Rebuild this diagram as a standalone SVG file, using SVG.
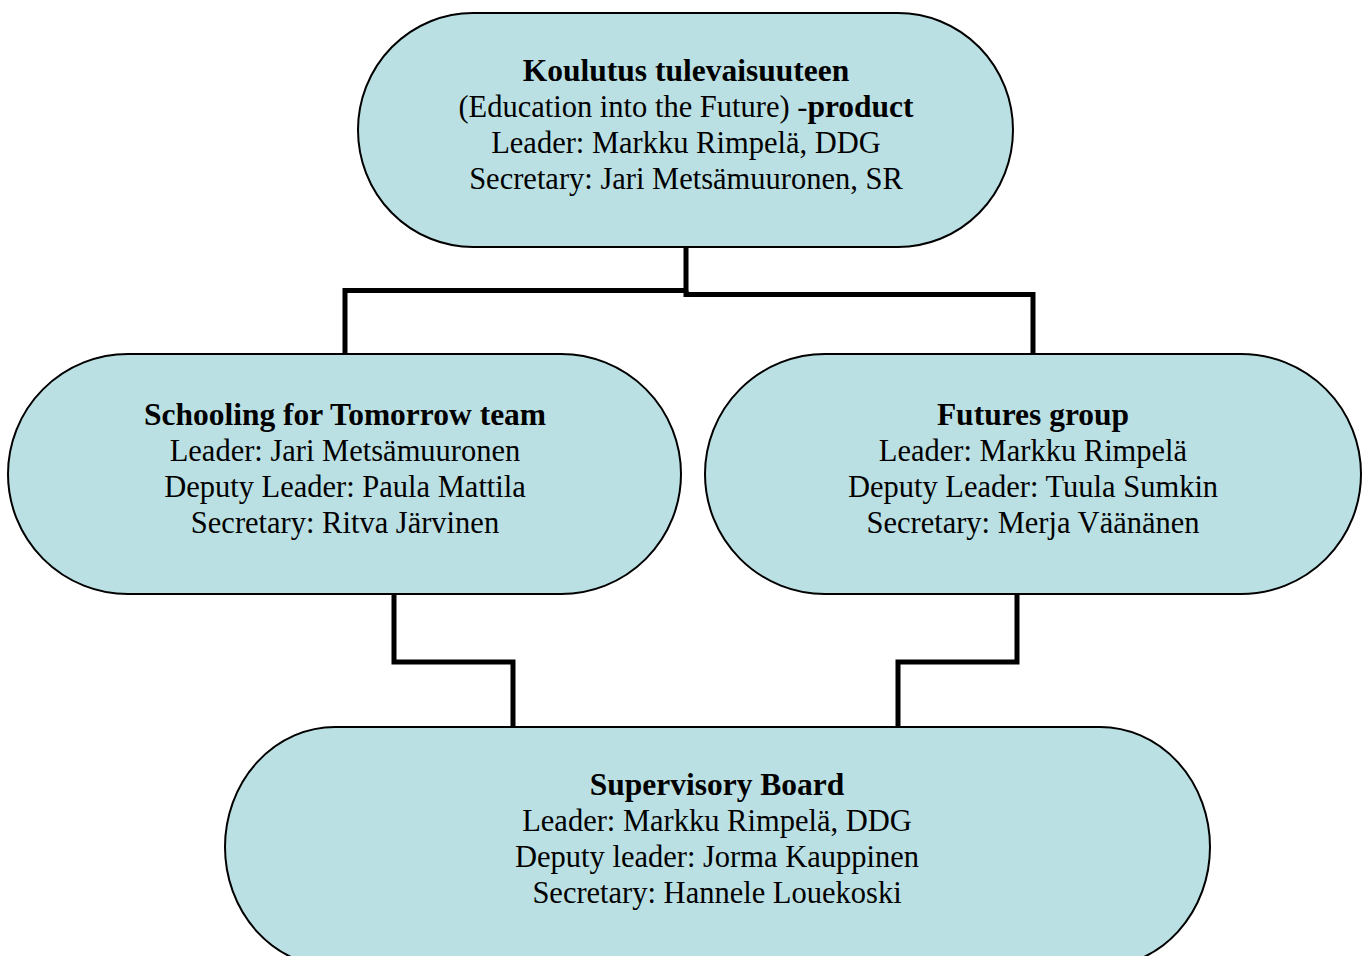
<svg xmlns="http://www.w3.org/2000/svg" width="1368" height="956" viewBox="0 0 1368 956">
  <style>
    .node { fill: #BBE0E3; stroke: #000; stroke-width: 2; }
    .label { font-family: "Liberation Serif", "Times New Roman", serif; font-size: 30.5px; fill: #000; text-anchor: middle; }
    .b { font-weight: bold; font-size: 31.5px; }
    .wire { fill: none; stroke: #000; stroke-width: 5; stroke-linejoin: miter; }
  </style>
  <rect width="1368" height="956" fill="#fff"/>

  <!-- connectors -->
  <g id="connectors">
    <path class="wire" d="M686 247 V290.5 H345 V354"/>
    <path class="wire" d="M686 290.5 V294.5 H1033 V354"/>
    <path class="wire" d="M394 590 V662 H513 V732"/>
    <path class="wire" d="M1017 590 V662 H898 V732"/>
  </g>

  <g id="node-product">
    <rect class="node" x="358" y="13" width="655" height="234" rx="115" ry="117"/>
    <text class="label" x="686" y="81"><tspan class="b">Koulutus tulevaisuuteen</tspan></text>
    <text class="label" x="686" y="117">(Education into the Future) -<tspan class="b">product</tspan></text>
    <text class="label" x="686" y="153">Leader: Markku Rimpelä, DDG</text>
    <text class="label" x="686" y="189">Secretary: Jari Metsämuuronen, SR</text>
  </g>

  <g id="node-schooling">
    <rect class="node" x="8" y="354" width="673" height="240" rx="120" ry="120"/>
    <text class="label b" x="345" y="425">Schooling for Tomorrow team</text>
    <text class="label" x="345" y="461">Leader: Jari Metsämuuronen</text>
    <text class="label" x="345" y="497">Deputy Leader: Paula Mattila</text>
    <text class="label" x="345" y="533">Secretary: Ritva Järvinen</text>
  </g>

  <g id="node-futures">
    <rect class="node" x="705" y="354" width="656" height="240" rx="120" ry="120"/>
    <text class="label b" x="1033" y="425">Futures group</text>
    <text class="label" x="1033" y="461">Leader: Markku Rimpelä</text>
    <text class="label" x="1033" y="497">Deputy Leader: Tuula Sumkin</text>
    <text class="label" x="1033" y="533">Secretary: Merja Väänänen</text>
  </g>

  <g id="node-board">
    <rect class="node" x="225" y="727" width="985" height="240" rx="110" ry="120"/>
    <text class="label b" x="717" y="795">Supervisory Board</text>
    <text class="label" x="717" y="831">Leader: Markku Rimpelä, DDG</text>
    <text class="label" x="717" y="867">Deputy leader: Jorma Kauppinen</text>
    <text class="label" x="717" y="903">Secretary: Hannele Louekoski</text>
  </g>
</svg>
